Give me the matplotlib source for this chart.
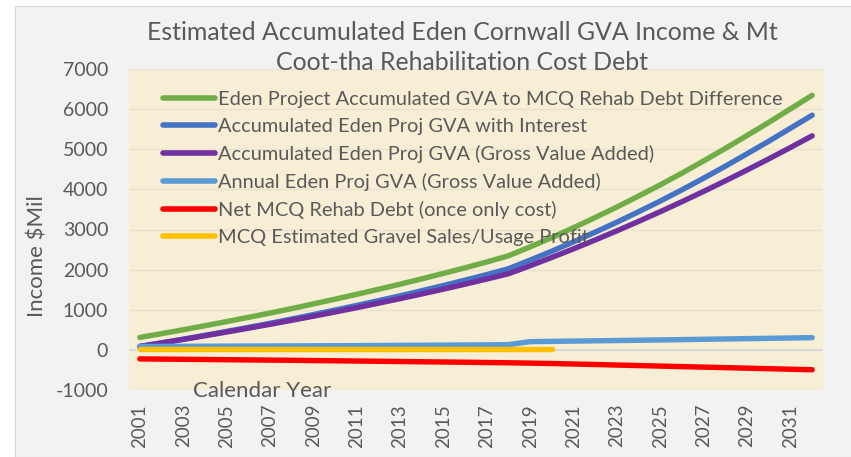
import matplotlib.pyplot as plt
from matplotlib.patches import Rectangle

# values ($Mil)
years = list(range(2001, 2033))
gva_debt_difference = [310, 404, 501, 602, 705, 810, 917, 1029, 1145, 1264, 1385, 1510,
                       1637, 1770, 1906, 2046, 2191, 2345, 2568, 2800, 3046, 3300, 3561,
                       3834, 4114, 4406, 4710, 5021, 5344, 5669, 6006, 6344]
gva_with_interest = [85, 174, 266, 362, 460, 560, 662, 769, 879, 992, 1107, 1226,
                     1347, 1474, 1604, 1738, 1876, 2023, 2238, 2460, 2694, 2935, 3183,
                     3443, 3710, 3989, 4280, 4578, 4888, 5200, 5524, 5849]
gva_accumulated = [85, 172, 261, 352, 445, 540, 637, 737, 839, 944, 1052, 1163,
                   1277, 1394, 1514, 1638, 1766, 1898, 2098, 2305, 2519, 2740, 2968,
                   3203, 3445, 3694, 3950, 4213, 4483, 4760, 5044, 5334]
gva_annual = [85, 87, 89, 91, 93, 95, 97, 99, 101, 103, 106, 109, 112, 115, 118, 121,
              125, 130, 205, 212, 219, 226, 233, 240, 248, 256, 264, 272, 280, 288,
              296, 305]
rehab_debt = [-225, -230, -235, -240, -245, -250, -255, -260, -266, -272, -278, -284,
              -290, -296, -302, -308, -315, -322, -330, -340, -352, -365, -378, -391,
              -404, -417, -430, -443, -456, -469, -482, -495]
gravel_years = list(range(2001, 2021))
gravel_profit = [20, 20, 20, 20, 20, 20, 20, 20, 20, 20, 20, 20, 20, 20, 20, 20,
                 20, 20, 20, 20]

series = [
    (years, gva_debt_difference, '#70ad47', 'Eden Project Accumulated GVA to MCQ Rehab Debt Difference'),
    (years, gva_with_interest, '#4472c4', 'Accumulated Eden Proj GVA with Interest'),
    (years, gva_accumulated, '#7030a0', 'Accumulated Eden Proj GVA (Gross Value Added)'),
    (years, gva_annual, '#5b9bd5', 'Annual Eden Proj GVA (Gross Value Added)'),
    (years, rehab_debt, '#ff0000', 'Net MCQ Rehab Debt (once only cost)'),
    (gravel_years, gravel_profit, '#ffc000', 'MCQ Estimated Gravel Sales/Usage Profit'),
]

plt.rcParams['font.family'] = ['Lato', 'DejaVu Sans']
plt.rcParams['axes.unicode_minus'] = False
text_color = '#595959'

W, H = 851, 457
fig = plt.figure(figsize=(W / 100, H / 100), dpi=100)
fig.patch.set_facecolor('white')
fig.add_artist(Rectangle((15 / W, 0), 1, 1 - 6 / H, transform=fig.transFigure,
                         facecolor='#f2f2f2', edgecolor='#d9d9d9', lw=0.8, zorder=-10))

ax = fig.add_axes([129 / W, 1 - 390 / H, (823 - 129) / W, (390 - 69) / H])
ax.set_facecolor('#f7eed5')
for s in ax.spines.values():
    s.set_visible(False)

for x, y, c, lab in series:
    ax.plot(x, y, color=c, lw=3.9, label=lab, solid_capstyle='round',
            solid_joinstyle='round', zorder=3)

ax.axhline(0, color='#d9d9d9', lw=1.5, zorder=2)
ax.set_xlim(2000.5, 2032.5)
ax.set_ylim(-1000, 7000)
ax.set_yticks(range(-1000, 7001, 1000))
ax.set_xticks(range(2001, 2032, 2))
ax.set_xticklabels([str(y) for y in range(2001, 2032, 2)], rotation=90)
ax.grid(axis='y', color='#e9e2cf', lw=1, zorder=1)
ax.tick_params(axis='both', length=0, colors=text_color)
ax.tick_params(axis='y', labelsize=14, pad=15)
ax.tick_params(axis='x', labelsize=13.5, pad=10)

fig.text(38 / W, 1 - 256 / H, 'Income $Mil', fontsize=16, color=text_color,
         ha='center', va='center', rotation=90)

fig.text(262 / W, 1 - 391 / H, 'Calendar Year', fontsize=16, color=text_color,
         ha='center', va='center')

fig.text(462 / W, 1 - 47.5 / H,
         'Estimated Accumulated Eden Cornwall GVA Income & Mt\nCoot-tha Rehabilitation Cost Debt',
         fontsize=17.9, color=text_color, ha='center', va='center', linespacing=1.34)

leg = ax.legend(loc='upper left', bbox_to_anchor=(163 / W, 1 - 91 / H),
                bbox_transform=fig.transFigure, frameon=False, fontsize=14.4,
                handlelength=2.6, handletextpad=0.15, labelspacing=0.5,
                borderpad=0, borderaxespad=0)
for t in leg.get_texts():
    t.set_color(text_color)
for h in leg.get_lines():
    h.set_linewidth(4)
    h.set_solid_capstyle('round')

fig.savefig('out.png', dpi=100)
